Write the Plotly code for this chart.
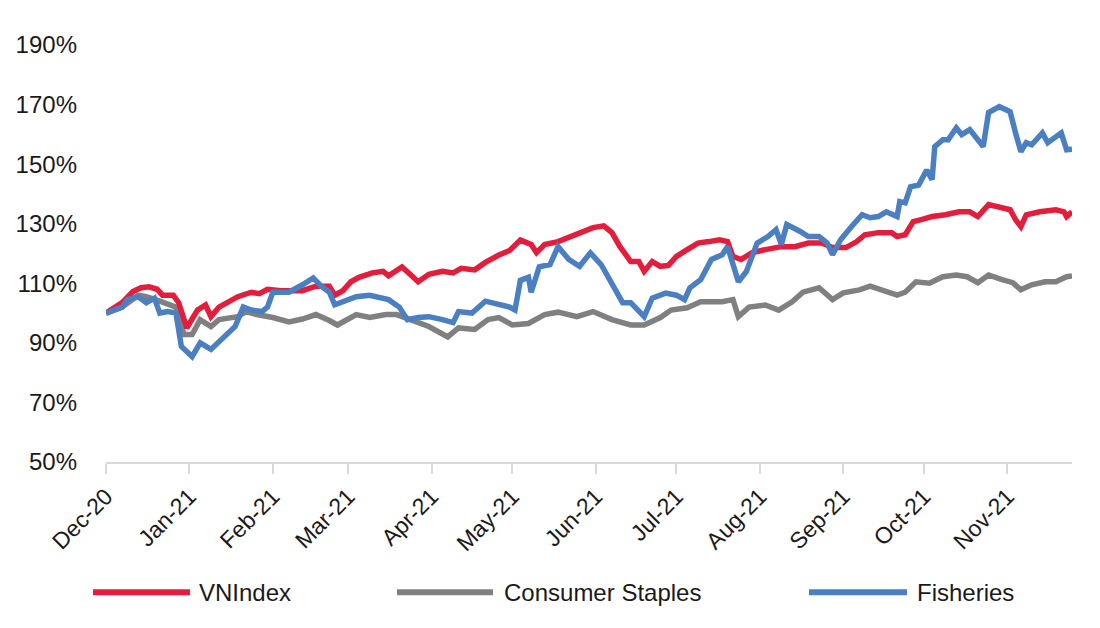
import plotly.graph_objects as go

# ---------------- data ----------------
dates_vnindex = [
    "2020-12-01", "2020-12-07", "2020-12-11", "2020-12-14", "2020-12-17", "2020-12-20",
    "2020-12-22", "2020-12-26", "2020-12-28", "2020-12-31", "2021-01-04", "2021-01-07",
    "2021-01-09", "2021-01-12", "2021-01-19", "2021-01-24", "2021-01-27", "2021-01-30",
    "2021-02-04", "2021-02-12", "2021-02-17", "2021-02-22", "2021-02-24", "2021-02-27",
    "2021-03-02", "2021-03-05", "2021-03-10", "2021-03-14", "2021-03-16", "2021-03-21",
    "2021-03-24", "2021-03-27", "2021-03-31", "2021-04-05", "2021-04-09", "2021-04-12",
    "2021-04-17", "2021-04-21", "2021-04-26", "2021-04-30", "2021-05-04", "2021-05-08",
    "2021-05-10", "2021-05-13", "2021-05-18", "2021-05-23", "2021-05-27", "2021-05-31",
    "2021-06-04", "2021-06-07", "2021-06-10", "2021-06-14", "2021-06-17", "2021-06-19",
    "2021-06-22", "2021-06-25", "2021-06-28", "2021-07-01", "2021-07-05", "2021-07-09",
    "2021-07-13", "2021-07-17", "2021-07-20", "2021-07-22", "2021-07-25", "2021-07-29",
    "2021-08-03", "2021-08-09", "2021-08-14", "2021-08-19", "2021-08-24", "2021-08-28",
    "2021-09-02", "2021-09-06", "2021-09-09", "2021-09-14", "2021-09-19", "2021-09-21",
    "2021-09-24", "2021-09-27", "2021-09-30", "2021-10-04", "2021-10-09", "2021-10-14",
    "2021-10-18", "2021-10-21", "2021-10-25", "2021-10-29", "2021-11-02", "2021-11-04",
    "2021-11-06", "2021-11-08", "2021-11-13", "2021-11-19", "2021-11-22", "2021-11-23",
    "2021-11-25",
]
vnindex = [
    100, 103.5, 107.2, 108.5, 108.8, 108,
    106, 106, 103.5, 95, 101, 102.7,
    98.8, 102, 105.5, 107, 106.5, 108,
    107.5, 107.5, 109, 109, 106, 107.5,
    110.5, 112, 113.5, 114, 112.5, 115.5,
    113, 110.5, 113, 114, 113.5, 115,
    114.5, 117, 119.5, 121, 124.5, 123,
    120.3, 123, 124, 125.7, 127.4, 128.7,
    129.3, 127, 122.3, 117.3, 117.3, 114,
    117.3, 115.7, 116, 119, 121.3, 123.5,
    124, 124.6, 124, 119, 118, 120.2,
    121.3, 122.3, 122.3, 123.5, 123.5, 122,
    122, 124, 126.3, 127, 127, 125.7,
    126.3, 130.7, 131.4, 132.4, 133, 134,
    134, 132.4, 136.4, 135.4, 134.7, 131.4,
    129, 133, 134, 134.7, 134, 132.4,
    134,
]

dates_staples = [
    "2020-12-01", "2020-12-07", "2020-12-13", "2020-12-16", "2020-12-21", "2020-12-27",
    "2020-12-30", "2021-01-02", "2021-01-05", "2021-01-09", "2021-01-12", "2021-01-19",
    "2021-01-22", "2021-01-26", "2021-02-01", "2021-02-07", "2021-02-12", "2021-02-17",
    "2021-02-22", "2021-02-25", "2021-02-27", "2021-03-04", "2021-03-09", "2021-03-15",
    "2021-03-19", "2021-03-24", "2021-03-31", "2021-04-07", "2021-04-11", "2021-04-17",
    "2021-04-22", "2021-04-26", "2021-05-01", "2021-05-07", "2021-05-13", "2021-05-18",
    "2021-05-25", "2021-05-31", "2021-06-07", "2021-06-14", "2021-06-19", "2021-06-25",
    "2021-06-29", "2021-07-05", "2021-07-10", "2021-07-18", "2021-07-22", "2021-07-24",
    "2021-07-28", "2021-08-03", "2021-08-08", "2021-08-13", "2021-08-17", "2021-08-23",
    "2021-08-28", "2021-09-01", "2021-09-07", "2021-09-11", "2021-09-15", "2021-09-21",
    "2021-09-24", "2021-09-28", "2021-10-03", "2021-10-08", "2021-10-13", "2021-10-17",
    "2021-10-21", "2021-10-25", "2021-10-30", "2021-11-03", "2021-11-06", "2021-11-10",
    "2021-11-15", "2021-11-19", "2021-11-23", "2021-11-25",
]
staples = [
    100, 102, 106, 105.5, 104, 102,
    92.8, 92.8, 97.8, 95.5, 97.8, 98.8,
    100.5, 99.5, 98.5, 97, 98, 99.5,
    97.5, 96, 97, 99.5, 98.5, 99.5,
    99.5, 97.8, 95.5, 92, 95, 94.5,
    97.8, 98.5, 96, 96.5, 99.5, 100.3,
    98.8, 100.5, 97.8, 96, 96, 98.5,
    101, 101.8, 103.8, 103.8, 104.5, 98.8,
    102, 102.7, 101, 103.8, 107, 108.5,
    104.5, 106.8, 107.8, 109, 107.8, 106,
    107, 110.5, 110, 112.2, 112.8, 112.2,
    110.2, 112.8, 111.2, 110.2, 107.8, 109.5,
    110.5, 110.5, 112.2, 112.5,
]

dates_fisheries = [
    "2020-12-01", "2020-12-07", "2020-12-09", "2020-12-13", "2020-12-16", "2020-12-19",
    "2020-12-21", "2020-12-24", "2020-12-27", "2020-12-29", "2021-01-02", "2021-01-05",
    "2021-01-09", "2021-01-13", "2021-01-18", "2021-01-21", "2021-01-24", "2021-01-28",
    "2021-01-30", "2021-02-01", "2021-02-07", "2021-02-12", "2021-02-16", "2021-02-19",
    "2021-02-22", "2021-02-24", "2021-02-27", "2021-03-04", "2021-03-09", "2021-03-13",
    "2021-03-16", "2021-03-20", "2021-03-23", "2021-03-27", "2021-03-31", "2021-04-05",
    "2021-04-09", "2021-04-11", "2021-04-16", "2021-04-21", "2021-04-26", "2021-04-30",
    "2021-05-02", "2021-05-04", "2021-05-07", "2021-05-08", "2021-05-11", "2021-05-15",
    "2021-05-18", "2021-05-22", "2021-05-26", "2021-05-30", "2021-06-03", "2021-06-07",
    "2021-06-11", "2021-06-14", "2021-06-19", "2021-06-22", "2021-06-27", "2021-07-01",
    "2021-07-04", "2021-07-06", "2021-07-10", "2021-07-14", "2021-07-18", "2021-07-20",
    "2021-07-24", "2021-07-27", "2021-07-31", "2021-08-04", "2021-08-07", "2021-08-09",
    "2021-08-11", "2021-08-16", "2021-08-19", "2021-08-23", "2021-08-26", "2021-08-28",
    "2021-08-31", "2021-09-04", "2021-09-08", "2021-09-11", "2021-09-14", "2021-09-17",
    "2021-09-21", "2021-09-22", "2021-09-24", "2021-09-26", "2021-09-29", "2021-10-02",
    "2021-10-04", "2021-10-05", "2021-10-08", "2021-10-10", "2021-10-13", "2021-10-15",
    "2021-10-18", "2021-10-23", "2021-10-25", "2021-10-29", "2021-11-02", "2021-11-04",
    "2021-11-06", "2021-11-08", "2021-11-10", "2021-11-14", "2021-11-16", "2021-11-21",
    "2021-11-23", "2021-11-25",
]
fisheries = [
    100, 102, 104.5, 105.5, 103.5, 105,
    100, 100.5, 100, 88.8, 85.4, 90,
    87.8, 91, 95.5, 102, 101, 100.5,
    102, 107, 107, 109.5, 111.8, 109,
    107, 102.8, 104, 105.5, 106, 105,
    104.5, 102, 97.8, 98.5, 98.8, 97.8,
    96.8, 100.5, 100, 104, 103, 102,
    101, 111, 112, 107, 115.5, 116.3,
    122.3, 118, 115.7, 120.2, 116.3, 110.3,
    103.5, 103.5, 98.8, 105, 106.7, 106,
    104.5, 108.5, 111.2, 118, 119.6, 122.3,
    110.5, 114, 123.5, 125.7, 128, 123,
    129.7, 127.4, 125.7, 125.7, 123.5, 119.6,
    124.6, 129, 133, 132, 132.4, 134,
    132.4, 137.4, 137, 142.4, 143, 148,
    144.8, 155.9, 158.2, 158.2, 162.2, 159.9,
    161.6, 155.9, 167.3, 169.3, 167.6, 160.5,
    154.2, 157.2, 156.5, 160.5, 157.2, 160.5,
    154.8, 155,
]

series_names = ["VNIndex", "Consumer Staples", "Fisheries"]
y_ticks = [50, 70, 90, 110, 130, 150, 170, 190]

# ---------------- styling ----------------
COLORS = {"VNIndex": "#E21E3C", "Consumer Staples": "#808080", "Fisheries": "#4A7FC2"}
FONT = "Liberation Sans, Arial, sans-serif"
TEXT = "#1A1A1A"

fig = go.Figure()
# draw order: gray bottom, red middle, blue on top
for name, xs, ys in [
    ("Consumer Staples", dates_staples, staples),
    ("VNIndex", dates_vnindex, vnindex),
    ("Fisheries", dates_fisheries, fisheries),
]:
    fig.add_trace(go.Scatter(
        x=xs, y=ys, name=name, mode="lines",
        line=dict(color=COLORS[name], width=5.5),
        showlegend=False,
    ))

# manual legend (long swatches as in the reference)
PLOT_L, PLOT_R = 106, 1072
PLOT_T, PLOT_B = 45, 462.5


def px_x(p):
    return (p - PLOT_L) / (PLOT_R - PLOT_L)


def px_y(p):
    return (PLOT_B - p) / (PLOT_B - PLOT_T)


legend_items = [(series_names[0], 93, 190, 197),
                (series_names[1], 397, 493, 502),
                (series_names[2], 809, 907, 915)]
ly = px_y(593)
for name, x0, x1, tx in legend_items:
    fig.add_shape(type="line", xref="paper", yref="paper",
                  x0=px_x(x0), x1=px_x(x1), y0=ly, y1=ly,
                  line=dict(color=COLORS[name], width=6))
    fig.add_annotation(xref="paper", yref="paper", x=px_x(tx), y=ly,
                       text=name, showarrow=False, xanchor="left", yanchor="middle",
                       font=dict(family=FONT, size=24, color=TEXT))

fig.update_layout(
    width=1100, height=628,
    margin=dict(l=PLOT_L, r=1100 - PLOT_R, t=PLOT_T, b=628 - PLOT_B),
    paper_bgcolor="white", plot_bgcolor="white",
    font=dict(family=FONT, color=TEXT),
    showlegend=False,
)
fig.update_xaxes(
    type="date",
    range=["2020-12-01", "2021-11-25"],
    tick0="2020-12-01", dtick="M1", tickformat="%b-%y",
    tickangle=-45,
    tickfont=dict(family=FONT, size=23, color=TEXT),
    showline=True, linecolor="#D9D9D9", linewidth=2,
    ticks="outside", ticklen=10, tickcolor="#D9D9D9", tickwidth=2,
    showgrid=False, zeroline=False,
)
fig.update_yaxes(
    range=[50, 190],
    tickvals=y_ticks, ticktext=[f"{v}%" for v in y_ticks],
    tickfont=dict(family=FONT, size=24, color=TEXT),
    showline=False, showgrid=False, zeroline=False,
    ticks="", ticklabelstandoff=28,
)

fig.write_html(
    "out.html",
    config={"displayModeBar": False},
    post_script="document.body.style.margin='0';document.body.style.overflow='hidden';",
)
